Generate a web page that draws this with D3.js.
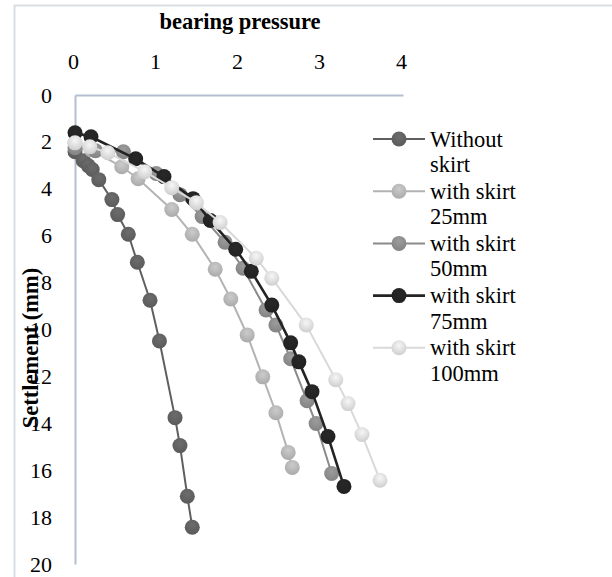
<!DOCTYPE html>
<html>
<head>
<meta charset="utf-8">
<script src="https://cdn.jsdelivr.net/npm/d3@7"></script>
<style>
  body { margin: 0; background: #fff; }
  svg text { font-family: "Liberation Serif", "Times New Roman", "DejaVu Serif", serif !important; fill: #000; }
</style>
</head>
<body>
<div id="chart"></div>
<script>
const serif = "'Liberation Serif', 'Times New Roman', 'DejaVu Serif', serif";

// series names (legend text, split in two lines like the original)
const seriesNames = ["Without skirt", "with skirt 25mm", "with skirt 50mm", "with skirt 75mm", "with skirt 100mm"];
const legendLines = [["Without", "skirt"], ["with skirt", "25mm"], ["with skirt", "50mm"], ["with skirt", "75mm"], ["with skirt", "100mm"]];

// bearing pressure (x) / settlement mm (y) for each series
const withoutP = [0, 0.10, 0.16, 0.21, 0.29, 0.45, 0.52, 0.65, 0.76, 0.915, 1.03, 1.22, 1.28, 1.37, 1.43];
const withoutS = [2.42, 2.80, 3.01, 3.18, 3.61, 4.46, 5.10, 5.94, 7.13, 8.75, 10.49, 13.76, 14.95, 17.11, 18.43];

const skirt25P = [0, 0.2, 0.57, 0.77, 1.18, 1.43, 1.71, 1.90, 2.10, 2.29, 2.45, 2.60, 2.65];
const skirt25S = [2.04, 2.34, 3.06, 3.57, 4.88, 5.94, 7.43, 8.70, 10.23, 12.02, 13.55, 15.24, 15.88];

const skirt50P = [0, 0.25, 0.59, 0.99, 1.28, 1.55, 1.83, 2.05, 2.33, 2.45, 2.63, 2.83, 2.94, 3.13];
const skirt50S = [2.25, 2.38, 2.42, 3.35, 4.25, 5.18, 6.28, 7.39, 9.17, 9.81, 11.25, 13.04, 14.01, 16.14];

const skirt75P = [0, 0.195, 0.74, 1.085, 1.44, 1.65, 1.96, 2.15, 2.40, 2.63, 2.73, 2.89, 3.085, 3.28];
const skirt75S = [1.61, 1.78, 2.72, 3.48, 4.42, 5.35, 6.58, 7.52, 8.96, 10.57, 11.38, 12.65, 14.56, 16.69];

const skirt100P = [0, 0.18, 0.40, 0.85, 1.18, 1.48, 1.77, 2.21, 2.40, 2.82, 3.18, 3.33, 3.50, 3.72];
const skirt100S = [2.04, 2.21, 2.46, 3.27, 3.95, 4.59, 5.44, 6.96, 7.81, 9.81, 12.14, 13.16, 14.48, 16.43];

const xTicks = [0, 1, 2, 3, 4];
const yTicks = [0, 2, 4, 6, 8, 10, 12, 14, 16, 18, 20];

const colors = ["#5f5f5f", "#b3b3b3", "#8a8a8a", "#232323", "#d9d9d9"];
const lineWidths = [2, 2, 2, 2.6, 2];

const series = [
  [withoutP, withoutS], [skirt25P, skirt25S], [skirt50P, skirt50S],
  [skirt75P, skirt75S], [skirt100P, skirt100S]
].map((pair, i) => ({
  name: seriesNames[i],
  color: colors[i],
  points: pair[0].map((p, j) => ({ p: p, s: pair[1][j] }))
}));

const W = 612, H = 577;
const svg = d3.select("#chart").append("svg")
  .attr("width", W).attr("height", H)
  .attr("font-family", serif);

// chart area border (only top/left visible in the original)
svg.append("rect")
  .attr("x", 14.5).attr("y", 5.5).attr("width", 700).attr("height", 700)
  .attr("fill", "none").attr("stroke", "#d9dde4").attr("stroke-width", 2);

const x = d3.scaleLinear().domain([0, 4]).range([75, 403]);
const y = d3.scaleLinear().domain([0, 20]).range([95, 564]);

//gradients for the shiny markers
const defs = svg.append("defs");
colors.forEach((c, i) => {
  const g = defs.append("radialGradient").attr("id", "mk" + i)
    .attr("cx", "50%").attr("cy", "35%").attr("r", "65%");
  g.append("stop").attr("offset", "0%").attr("stop-color", d3.color(c).brighter(0.35));
  g.append("stop").attr("offset", "100%").attr("stop-color", d3.color(c).darker(0.15));
});

// axes
const xAxis = svg.append("g")
  .attr("transform", "translate(0," + y(0) + ")")
  .call(d3.axisTop(x).tickValues(xTicks).tickFormat(d3.format("d")).tickSize(0).tickSizeOuter(0).tickPadding(26));
const yAxis = svg.append("g")
  .attr("transform", "translate(" + x(0) + ",0)")
  .call(d3.axisLeft(y).tickValues(yTicks).tickFormat(d3.format("d")).tickSize(0).tickSizeOuter(0).tickPadding(23));

[xAxis, yAxis].forEach(a => {
  a.attr("font-family", serif).attr("font-size", 22);
  a.select(".domain").attr("stroke", "#b4bfd0").attr("stroke-width", 2);
  a.selectAll("text").attr("fill", "#000");
});
xAxis.selectAll("text").attr("dx", -2);

// axis titles
svg.append("text")
  .attr("x", 240).attr("y", 29)
  .attr("text-anchor", "middle")
  .attr("font-size", 22.5).attr("font-weight", "bold")
  .text("bearing pressure");

svg.append("text")
  .attr("transform", "translate(33,348) rotate(-90)")
  .attr("text-anchor", "middle")
  .attr("dominant-baseline", "middle")
  .attr("font-size", 22.5).attr("font-weight", "bold")
  .text("Settlement (mm)");

// series lines + markers
const line = d3.line().x(d => x(d.p)).y(d => y(d.s));

series.forEach((ser, i) => {
  const g = svg.append("g").attr("class", "series");
  g.append("path")
    .datum(ser.points)
    .attr("d", line)
    .attr("fill", "none")
    .attr("stroke", ser.color)
    .attr("stroke-width", lineWidths[i]);
  g.selectAll("circle")
    .data(ser.points)
    .enter()
    .append("circle")
    .attr("cx", d => x(d.p))
    .attr("cy", d => y(d.s))
    .attr("r", 7.5)
    .attr("fill", "url(#mk" + i + ")");
});

// legend
const legend = svg.append("g");
series.forEach((ser, i) => {
  const ry = 139 + i * 52.2;
  const row = legend.append("g").attr("transform", "translate(0," + ry + ")");
  row.append("line")
    .attr("x1", 373).attr("x2", 425).attr("y1", 0).attr("y2", 0)
    .attr("stroke", ser.color).attr("stroke-width", lineWidths[i]);
  row.append("circle")
    .attr("cx", 399).attr("cy", 0).attr("r", 7.5)
    .attr("fill", "url(#mk" + i + ")");
  legendLines[i].forEach((t, k) => {
    row.append("text")
      .attr("x", 430).attr("y", 7.5 + k * 25.5)
      .attr("font-size", 22.5)
      .text(t);
  });
});
</script>
</body>
</html>
